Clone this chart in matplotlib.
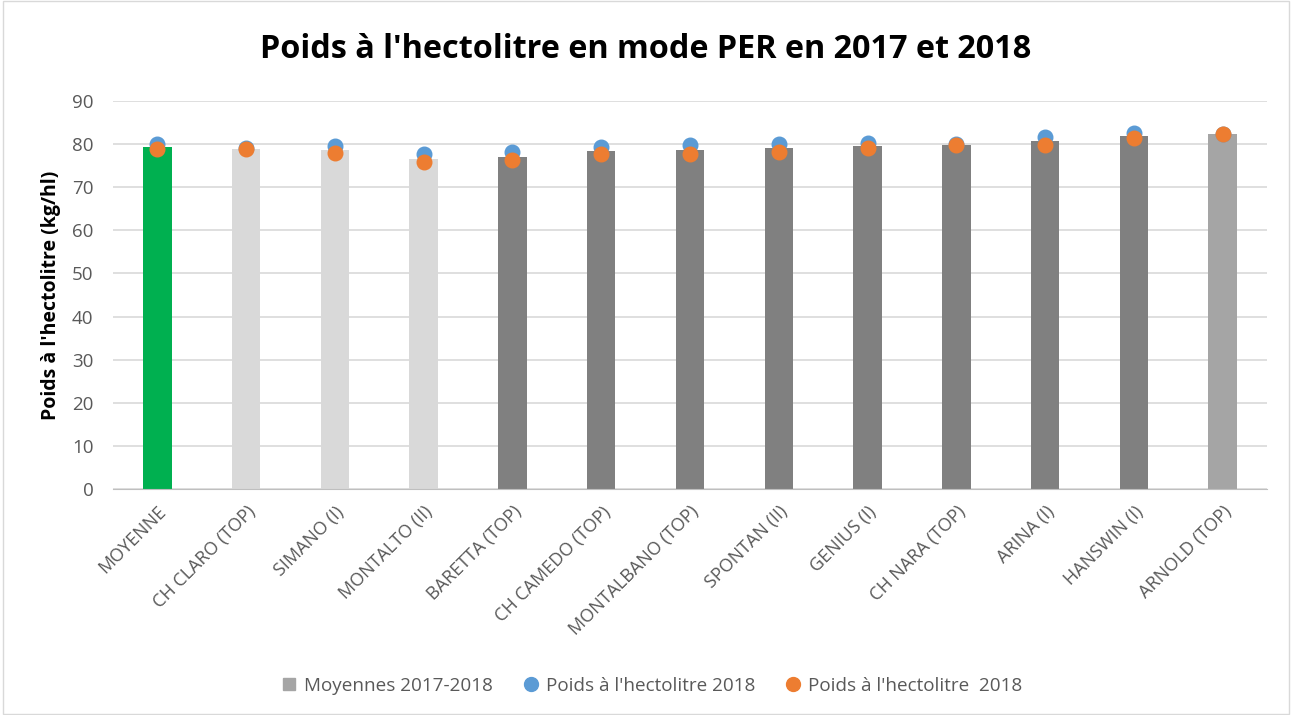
import matplotlib
matplotlib.use("Agg")
import matplotlib.pyplot as plt
from matplotlib.patches import Rectangle
from matplotlib.lines import Line2D

categories = ["MOYENNE", "CH CLARO (TOP)", "SIMANO (I)", "MONTALTO (II)", "BARETTA (TOP)",
              "CH CAMEDO (TOP)", "MONTALBANO (TOP)", "SPONTAN (II)", "GENIUS (I)",
              "CH NARA (TOP)", "ARINA (I)", "HANSWIN (I)", "ARNOLD (TOP)"]
moyennes = [79.4, 78.9, 78.6, 76.5, 77.0, 78.4, 78.6, 79.1, 79.6, 79.8, 80.7, 81.9, 82.3]
poids_blue = [80.0, 79.1, 79.6, 77.6, 78.1, 79.3, 79.7, 80.0, 80.2, 80.0, 81.6, 82.5, 82.4]
poids_orange = [78.8, 78.8, 78.0, 75.9, 76.3, 77.7, 77.8, 78.2, 79.1, 79.9, 79.8, 81.4, 82.4]
bar_colors = ["#00B050", "#D9D9D9", "#D9D9D9", "#D9D9D9", "#808080", "#808080", "#808080",
              "#808080", "#808080", "#808080", "#808080", "#808080", "#A5A5A5"]
yticks = [0, 10, 20, 30, 40, 50, 60, 70, 80, 90]

plt.rcParams['font.family'] = ['Open Sans', 'DejaVu Sans']

fig = plt.figure(figsize=(12.92, 7.15), dpi=100)
ax = fig.add_axes([113/1292, 1-489/715, (1267-113)/1292, (489-101)/715])

x = list(range(len(categories)))
ax.bar(x, moyennes, width=0.32, color=bar_colors, zorder=2)
ax.scatter(x, poids_blue, s=110, color="#5B9BD5", zorder=3)
ax.scatter(x, poids_orange, s=110, color="#ED7D31", zorder=4)

ax.set_ylim(0, 90)
ax.set_xlim(-0.5, len(categories) - 0.5)
ax.set_yticks(yticks)
ax.yaxis.grid(True, color="#D9D9D9", linewidth=1.2)
ax.set_axisbelow(True)
for s in ["top", "right", "left"]:
    ax.spines[s].set_visible(False)
ax.spines["bottom"].set_color("#BFBFBF")
ax.tick_params(axis="y", length=0, labelsize=13.5, colors="#595959", pad=14)
ax.tick_params(axis="x", length=0, labelsize=13, colors="#595959", pad=10)
ax.set_xticks(x)
ax.set_xticklabels(categories, rotation=45, ha="right", rotation_mode="anchor")
ax.set_ylabel("Poids à l'hectolitre (kg/hl)", fontsize=14, fontweight="bold", color="black", labelpad=8)

fig.text(0.5, 1-50/715, "Poids à l'hectolitre en mode PER en 2017 et 2018", ha="center", va="center",
         fontsize=23.3, fontweight="bold", color="black")

handles = [
    Line2D([], [], marker="s", linestyle="none", markersize=9, color="#A5A5A5"),
    Line2D([], [], marker="o", linestyle="none", markersize=10, color="#5B9BD5"),
    Line2D([], [], marker="o", linestyle="none", markersize=10, color="#ED7D31"),
]
labels = ["Moyennes 2017-2018", "Poids à l'hectolitre 2018", "Poids à l'hectolitre  2018"]
fig.legend(handles, labels, loc="center", bbox_to_anchor=(0.5, 1-686/715), ncol=3, frameon=False,
           fontsize=13.6, handletextpad=-0.2, columnspacing=1.0, labelcolor="#595959")

fig.add_artist(Rectangle((0.002, 0.002), 0.996, 0.996, transform=fig.transFigure, fill=False,
                         edgecolor="#D9D9D9", linewidth=1))

fig.savefig("out.png", dpi=100)
